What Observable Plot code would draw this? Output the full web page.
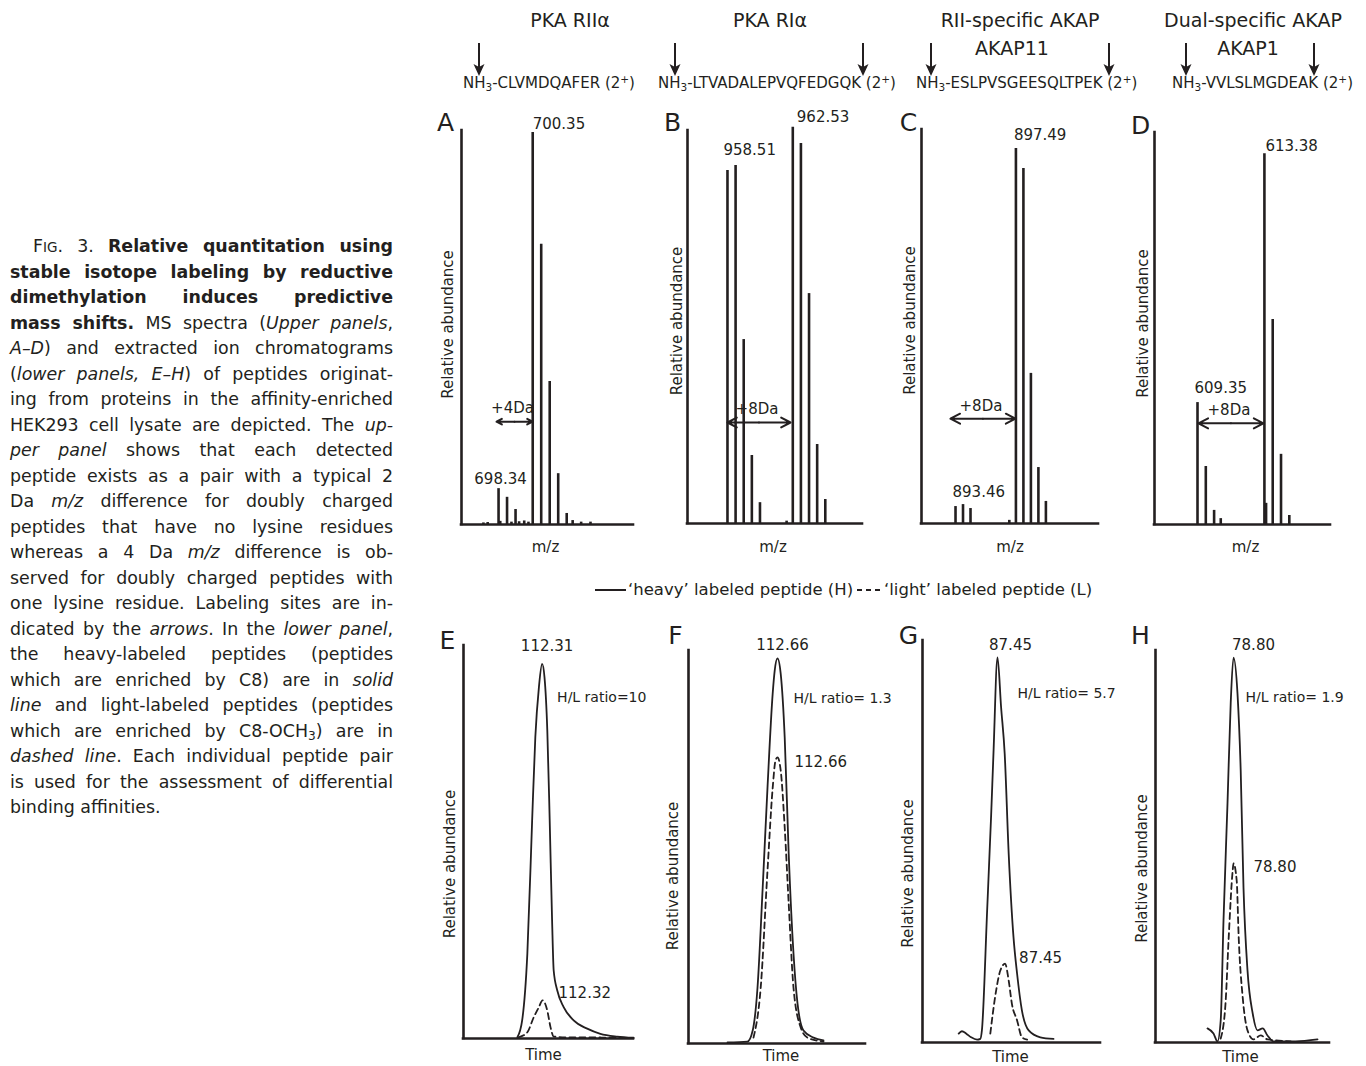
<!DOCTYPE html>
<html>
<head>
<meta charset="utf-8">
<script src="https://cdn.jsdelivr.net/npm/d3@7"></script>
<script src="https://cdn.jsdelivr.net/npm/@observablehq/plot@0.6"></script>
<style>
  html, body { margin: 0; padding: 0; background: #fff; }
  body { width: 1366px; height: 1066px; position: relative; overflow: hidden;
         font-family: "DejaVu Sans", sans-serif; color: #231f20; }
  .abs { position: absolute; white-space: nowrap; }
  .hdr { font-size: 19px; line-height: 20px; transform: translateX(-50%); }
  .seq { font-size: 15px; line-height: 18px; }
  .seq sub { font-size: 0.7em; line-height: 0; vertical-align: -0.3em; }
  .seq sup { font-size: 0.7em; line-height: 0; vertical-align: 0.5em; }
  #caption { position: absolute; left: 10px; top: 234px; width: 383px; font-size: 17.4px; }
  #caption div { height: 25.5px; line-height: 25.5px; text-align: justify; text-align-last: justify; overflow: visible; }
  #caption div.last { text-align-last: left; }
  #caption .sc { font-size: 0.78em; }
  #caption sub { font-size: 0.7em; line-height: 0; vertical-align: -0.25em; }
  .leg { font-size: 16.5px; line-height: 20px; }
</style>
</head>
<body>
<div id="caption">
  <div style="text-indent:23px">F<span class="sc">IG</span>. 3. <b>Relative quantitation using</b></div>
  <div><b>stable isotope labeling by reductive</b></div>
  <div><b>dimethylation induces predictive</b></div>
  <div><b>mass shifts.</b> MS spectra (<i>Upper panels</i>,</div>
  <div><i>A–D</i>) and extracted ion chromatograms</div>
  <div>(<i>lower panels, E–H</i>) of peptides originat-</div>
  <div>ing from proteins in the affinity-enriched</div>
  <div>HEK293 cell lysate are depicted. The <i>up-</i></div>
  <div><i>per panel</i> shows that each detected</div>
  <div>peptide exists as a pair with a typical 2</div>
  <div>Da <i>m/z</i> difference for doubly charged</div>
  <div>peptides that have no lysine residues</div>
  <div>whereas a 4 Da <i>m/z</i> difference is ob-</div>
  <div>served for doubly charged peptides with</div>
  <div>one lysine residue. Labeling sites are in-</div>
  <div>dicated by the <i>arrows</i>. In the <i>lower panel</i>,</div>
  <div>the heavy-labeled peptides (peptides</div>
  <div>which are enriched by C8) are in <i>solid</i></div>
  <div><i>line</i> and light-labeled peptides (peptides</div>
  <div>which are enriched by C8-OCH<sub>3</sub>) are in</div>
  <div><i>dashed line</i>. Each individual peptide pair</div>
  <div>is used for the assessment of differential</div>
  <div class="last">binding affinities.</div>
</div>

<!-- column headers -->
<div class="abs hdr" style="left:570px;top:10px">PKA RIIα</div>
<div class="abs hdr" style="left:770px;top:10px">PKA RIα</div>
<div class="abs hdr" style="left:1020px;top:10px">RII-specific AKAP</div>
<div class="abs hdr" style="left:1253px;top:10px">Dual-specific AKAP</div>
<div class="abs hdr" style="left:1012px;top:38px">AKAP11</div>
<div class="abs hdr" style="left:1248px;top:38px">AKAP1</div>
<div class="abs seq" style="left:463px;top:74px">NH<sub>3</sub>-CLVMDQAFER (2<sup>+</sup>)</div>
<div class="abs seq" style="left:658px;top:74px">NH<sub>3</sub>-LTVADALEPVQFEDGQK (2<sup>+</sup>)</div>
<div class="abs seq" style="left:916px;top:74px">NH<sub>3</sub>-ESLPVSGEESQLTPEK (2<sup>+</sup>)</div>
<div class="abs seq" style="left:1172px;top:74px">NH<sub>3</sub>-VVLSLMGDEAK (2<sup>+</sup>)</div>

<!-- legend -->
<svg class="abs" style="left:594px;top:584px" width="34" height="12"><line x1="1" x2="32" y1="6" y2="6" stroke="#231f20" stroke-width="2"/></svg>
<div class="abs leg" style="left:628px;top:580px">‘heavy’ labeled peptide (H)</div>
<svg class="abs" style="left:855px;top:584px" width="28" height="12"><line x1="2" x2="26" y1="6" y2="6" stroke="#231f20" stroke-width="2" stroke-dasharray="5,4"/></svg>
<div class="abs leg" style="left:884px;top:580px">‘light’ labeled peptide (L)</div>

<script>
// ================= DATA =================
const ink = "#231f20";

// --- Top row: MS spectra (m/z vs relative abundance, %) ---
const mzA = [697.45, 697.70, 698.34, 698.44, 698.84, 699.10, 699.34, 699.55, 699.85, 700.10, 700.35, 700.85, 701.35, 701.85, 702.35, 702.70, 703.20, 703.75];
const abA = [0.4, 0.5, 9.1, 0.8, 6.9, 0.6, 3.8, 0.7, 0.9, 0.6, 99.5, 71.1, 36.3, 12.9, 2.8, 1.0, 0.6, 0.6];
const mzB = [958.51, 959.01, 959.51, 960.01, 960.51, 962.15, 962.53, 963.03, 963.53, 964.03, 964.53];
const abB = [89.8, 91.1, 46.8, 17.3, 5.3, 0.6, 100.8, 96.7, 58.5, 20.1, 6.1];
const mzC = [893.46, 893.96, 894.46, 897.05, 897.49, 897.99, 898.49, 898.99, 899.49];
const abC = [4.3, 4.8, 3.8, 0.8, 95.2, 90.1, 38.1, 14.2, 5.6];
const mzD = [609.35, 609.85, 610.35, 610.75, 613.38, 613.48, 613.88, 614.38, 614.88];
const abD = [31.1, 14.8, 3.6, 1.5, 94.6, 5.4, 52.3, 17.9, 2.3];

// m/z axis extents per panel
const mzDomains = [[696.16, 706.28], [956.05, 966.82], [891.19, 903.0], [606.76, 617.36]];

// labelled light / heavy monoisotopic peaks
const lightLabels = ["698.34", "958.51", "893.46", "609.35"];
const heavyLabels = ["700.35", "962.53", "897.49", "613.38"];
// mass shift arrows: label, from (m/z), to (m/z), level (%)
const shiftLabels = ["+4Da", "+8Da", "+8Da", "+8Da"];
const shiftFrom = [698.22, 958.51, 893.12, 609.41];
const shiftTo = [700.34, 962.39, 897.46, 613.32];
const shiftLevel = [26.1, 25.7, 26.6, 25.8];

// --- Bottom row: extracted ion chromatograms (time, min vs relative abundance, %) ---
const tHeavyE = [111.69, 111.81, 111.94, 112.06, 112.14, 112.23, 112.31, 112.37, 112.44, 112.50, 112.56, 112.60, 112.69, 112.85, 113.10, 113.44, 113.77, 114.19, 114.60];
const iHeavyE = [0.3, 4.6, 21.6, 55.5, 76.7, 89.4, 95.3, 91.9, 78.4, 55.5, 30.0, 17.3, 12.2, 8.0, 4.6, 2.5, 1.2, 0.5, 0.2];
const tLightE = [111.72, 111.94, 112.10, 112.23, 112.32, 112.44, 112.52, 112.60, 112.94, 113.77, 114.60];
const iLightE = [0.3, 1.6, 5.4, 8.0, 9.7, 7.1, 2.9, 0.5, 0.3, 0.25, 0.1];

const tHeavyF = [111.41, 111.91, 112.04, 112.16, 112.29, 112.41, 112.54, 112.59, 112.66, 112.74, 112.84, 112.94, 113.06, 113.16, 113.31, 113.56, 113.81];
const iHeavyF = [0.3, 0.5, 3.3, 14.2, 39.7, 65.1, 89.1, 94.9, 98.0, 94.1, 77.9, 48.3, 22.9, 10.2, 3.3, 1.5, 0.8];
const tLightF = [112.06, 112.24, 112.41, 112.54, 112.61, 112.66, 112.74, 112.84, 112.94, 113.06, 113.24, 113.41, 113.81];
const iLightF = [1.5, 14.2, 44.0, 65.1, 72.0, 72.8, 69.5, 55.0, 35.6, 14.2, 4.1, 1.5, 0.5];

const tHeavyG = [86.48, 86.56, 86.67, 86.79, 86.94, 87.02, 87.06, 87.19, 87.29, 87.35, 87.45, 87.54, 87.63, 87.73, 87.85, 87.94, 88.06, 88.23, 88.52, 88.85];
const iHeavyG = [2.2, 2.8, 2.2, 1.3, 0.7, 0.9, 3.0, 32.6, 56.3, 72.1, 95.8, 83.4, 71.8, 46.9, 26.2, 17.1, 8.0, 3.0, 1.3, 0.9];
const tLightG = [87.27, 87.39, 87.52, 87.64, 87.73, 87.81, 87.94, 88.06, 88.19];
const iLightG = [2.2, 11.3, 17.9, 19.6, 15.4, 9.6, 5.5, 1.3, 0.7];

const tHeavyH = [78.15, 78.30, 78.40, 78.48, 78.55, 78.65, 78.73, 78.80, 78.90, 78.98, 79.05, 79.15, 79.28, 79.40, 79.53, 79.65, 79.80, 80.35, 80.90];
const iHeavyH = [3.6, 2.3, 0.3, 5.6, 31.1, 61.0, 86.5, 98.2, 89.0, 69.4, 39.5, 18.4, 7.4, 3.1, 3.6, 1.8, 0.3, 0.3, 0.8];
const tLightH = [78.48, 78.60, 78.68, 78.78, 78.80, 78.88, 78.93, 79.03, 79.15, 79.30, 79.48, 79.65, 80.23];
const iLightH = [1.0, 9.9, 26.8, 43.9, 45.7, 41.3, 26.8, 11.5, 3.1, 0.8, 1.8, 0.8, 0.3];

const timeDomains = [[110.34, 114.60], [110.435, 114.86], [85.575, 90.025], [76.85, 81.20]];
const heavyApexLabels = ["112.31", "112.66", "87.45", "78.80"];
const lightApexLabels = ["112.32", "112.66", "87.45", "78.80"];
const ratioLabels = ["H/L ratio=10", "H/L ratio= 1.3", "H/L ratio= 5.7", "H/L ratio= 1.9"];

const panelLetters = ["A", "B", "C", "D", "E", "F", "G", "H"];

// ================= LAYOUT =================
const M = {l: 50, r: 16, t: 46, b: 40};
const FONT = "'DejaVu Sans', sans-serif";

function place(frame, xDomain, marks) {
  const [L, T, R, B] = frame;
  const svg = Plot.plot({
    width: R - L + M.l + M.r, height: B - T + M.t + M.b,
    marginLeft: M.l, marginRight: M.r, marginTop: M.t, marginBottom: M.b,
    x: {domain: xDomain, axis: null},
    y: {domain: [0, 100], axis: null},
    style: {fontFamily: FONT, color: ink, background: "transparent", overflow: "visible"},
    marks
  });
  svg.style.position = "absolute";
  svg.style.left = (L - M.l) + "px";
  svg.style.top = (T - M.t) + "px";
  document.body.appendChild(svg);
}

function axesMarks(xDomain, letter, L, ylab, xlab) {
  return [
    Plot.ruleY([0], {stroke: ink, strokeWidth: 2.6, strokeLinecap: "square"}),
    Plot.ruleX([xDomain[0]], {stroke: ink, strokeWidth: 2.6, strokeLinecap: "square"}),
    Plot.text([letter], {text: d => d, frameAnchor: "top-left", textAnchor: "middle", lineAnchor: "middle",
      dx: L.ldx, dy: L.ldy, fontSize: 25, fill: ink}),
    Plot.text([ylab], {text: d => d, frameAnchor: "left", rotate: -90, textAnchor: "middle",
      lineAnchor: "middle", dx: L.rdx, dy: L.rdy, fontSize: 15, fill: ink}),
    Plot.text([xlab], {text: d => d, frameAnchor: "bottom", textAnchor: "middle", lineAnchor: "middle",
      dx: L.xdx, dy: L.xdy, fontSize: 15, fill: ink})
  ];
}

// ---- MS panels ----
const msFrames = [[461, 130, 633, 524], [687, 130, 862, 523], [921, 129, 1098, 523], [1154, 132, 1330, 524]];
const msSpectra = [[mzA, abA], [mzB, abB], [mzC, abC], [mzD, abD]];
const msLay = [
  {ldx: -16, ldy: -8, rdx: -13, rdy: -3, xdx: -2, xdy: 23, hl: [0, -8], ll: [2, -9, "middle"]},
  {ldx: -15, ldy: -8, rdx: -10, rdy: -6, xdx: -2, xdy: 24, hl: [4, -10], ll: [-4, -15, "start"], llRef: 1},
  {ldx: -13, ldy: -7, rdx: -11, rdy: -6, xdx: 0, xdy: 24, hl: [-2, -13], ll: [-3, -14, "start"]},
  {ldx: -14, ldy: -7, rdx: -11, rdy: -5, xdx: 3, xdy: 23, hl: [1, -7], ll: [-3, -14, "start"]}
];

msFrames.forEach((frame, i) => {
  const [mz, ab] = msSpectra[i];
  const peaks = mz.map((m, k) => ({mz: m, ab: ab[k]}));
  const lay = msLay[i];
  const lightMz = +lightLabels[i], heavyMz = +heavyLabels[i];
  const nearest = v => peaks.reduce((a, b) => Math.abs(b.mz - v) < Math.abs(a.mz - v) ? b : a);
  const lp = nearest(lightMz), hp = nearest(heavyMz);
  const lTop = lay.llRef ? peaks[peaks.indexOf(lp) + lay.llRef].ab : lp.ab;
  const shift = [{label: shiftLabels[i], from: shiftFrom[i], to: shiftTo[i], y: shiftLevel[i]}];
  const marks = [
    ...axesMarks(mzDomains[i], panelLetters[i], lay, "Relative abundance", "m/z"),
    Plot.ruleX(peaks, {x: "mz", y1: 0, y2: "ab", stroke: ink, strokeWidth: 2.6}),
    Plot.text([{x: hp.mz, y: hp.ab, t: heavyLabels[i]}], {x: "x", y: "y", text: "t", textAnchor: "start",
      lineAnchor: "middle", dx: lay.hl[0], dy: lay.hl[1], fontSize: 15, fill: ink}),
    Plot.text([{x: lp.mz, y: lTop, t: lightLabels[i]}], {x: "x", y: "y", text: "t",
      textAnchor: lay.ll[2], lineAnchor: "middle", dx: lay.ll[0], dy: lay.ll[1], fontSize: 15, fill: ink}),
    Plot.arrow(shift, {x1: d => (d.from + d.to) / 2, x2: "from", y1: "y", y2: "y", bend: 0,
      headLength: 9, headAngle: 55, stroke: ink, strokeWidth: 2}),
    Plot.arrow(shift, {x1: d => (d.from + d.to) / 2, x2: "to", y1: "y", y2: "y", bend: 0,
      headLength: 9, headAngle: 55, stroke: ink, strokeWidth: 2}),
    Plot.text(shift, {x: d => (d.from + d.to) / 2, y: "y", text: "label", textAnchor: "middle",
      lineAnchor: "middle", dy: -13, dx: -2, fontSize: 15, fill: ink})
  ];
  place(frame, mzDomains[i], marks);
});

// ---- Chromatogram panels ----
const lcFrames = [[463, 645, 633, 1038], [688, 650, 865, 1043], [922, 640, 1100, 1042], [1155, 650, 1329, 1042]];
const lcTraces = [
  [tHeavyE, iHeavyE, tLightE, iLightE],
  [tHeavyF, iHeavyF, tLightF, iLightF],
  [tHeavyG, iHeavyG, tLightG, iLightG],
  [tHeavyH, iHeavyH, tLightH, iLightH]
];
const lcLay = [
  {ldx: -16, ldy: -5, rdx: -13, rdy: 22, xdx: -5, xdy: 17, ha: [5, -18], ra: [15, 34], la: [16, -7]},
  {ldx: -13, ldy: -15, rdx: -15, rdy: 29, xdx: 4, xdy: 13, ha: [5, -13], ra: [16, 40], la: [17, 5]},
  {ldx: -14, ldy: -5, rdx: -14, rdy: 32, xdx: -1, xdy: 15, ha: [13, -12], ra: [20, 36], la: [14, -6]},
  {ldx: -15, ldy: -15, rdx: -13, rdy: 22, xdx: -2, xdy: 15, ha: [20, -12], ra: [12, 40], la: [20, 4]}
];

lcFrames.forEach((frame, i) => {
  const [th, ih, tl, il] = lcTraces[i];
  const heavy = th.map((t, k) => ({t, v: ih[k]}));
  const light = tl.map((t, k) => ({t, v: il[k]}));
  const hApex = heavy.reduce((a, b) => b.v > a.v ? b : a);
  const lApex = light.reduce((a, b) => b.v > a.v ? b : a);
  const lay = lcLay[i];
  const marks = [
    ...axesMarks(timeDomains[i], panelLetters[i + 4], lay, "Relative abundance", "Time"),
    Plot.line(light, {x: "t", y: "v", stroke: ink, strokeWidth: 1.8, strokeDasharray: "6,4", curve: "monotone-x"}),
    Plot.line(heavy, {x: "t", y: "v", stroke: ink, strokeWidth: 1.8, curve: "monotone-x"}),
    Plot.text([hApex], {x: "t", y: "v", text: () => heavyApexLabels[i], textAnchor: "middle", lineAnchor: "middle",
      dx: lay.ha[0], dy: lay.ha[1], fontSize: 15, fill: ink}),
    Plot.text([hApex], {x: "t", y: "v", text: () => ratioLabels[i], textAnchor: "start", lineAnchor: "middle",
      dx: lay.ra[0], dy: lay.ra[1], fontSize: 14, fill: ink}),
    Plot.text([lApex], {x: "t", y: "v", text: () => lightApexLabels[i], textAnchor: "start", lineAnchor: "middle",
      dx: lay.la[0], dy: lay.la[1], fontSize: 15, fill: ink})
  ];
  place(frame, timeDomains[i], marks);
});

// ---- header arrows marking labeling sites ----
const arrowXs = [479, 675, 863, 931, 1109, 1186, 1314];
arrowXs.forEach(x => {
  const s = d3.select(document.body).append("svg")
    .attr("width", 14).attr("height", 36)
    .style("position", "absolute").style("left", (x - 7) + "px").style("top", "42px");
  s.append("line").attr("x1", 7).attr("x2", 7).attr("y1", 1).attr("y2", 26).attr("stroke", ink).attr("stroke-width", 2);
  s.append("path").attr("d", "M1.5,22 L7,34 L12.5,22 L7,25 Z").attr("fill", ink);
});
</script>
</body>
</html>
